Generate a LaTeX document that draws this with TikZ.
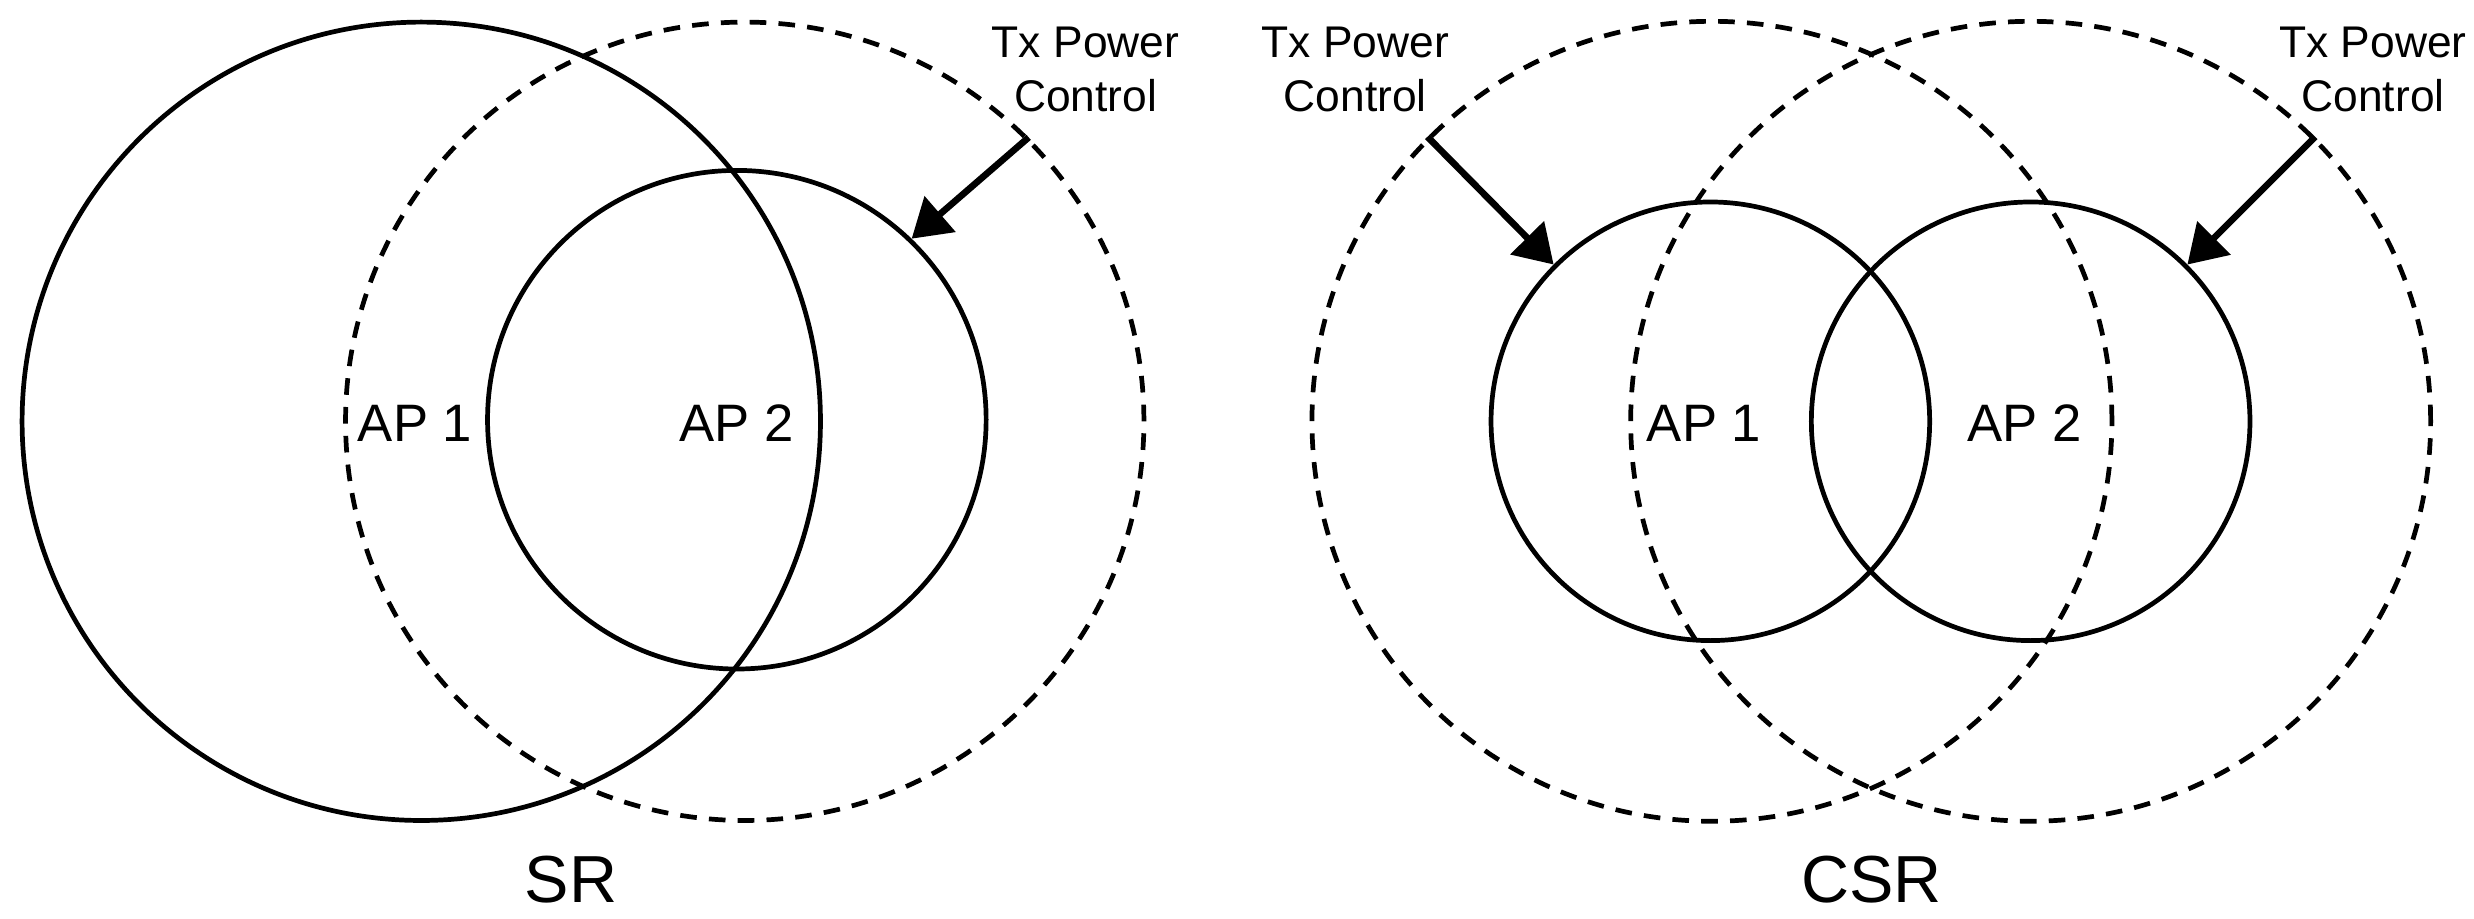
\documentclass[tikz,border=0pt]{standalone}
\usepackage{fontspec}
\setmainfont{Liberation Sans}
\usetikzlibrary{arrows.meta}

\tikzset{
  cell/.style={circle,draw,line width=0.85pt,inner sep=0pt,minimum size=#1},
  txrange/.style={circle,draw,dash pattern=on 3pt off 2.2pt,line width=0.85pt,inner sep=0pt,minimum size=#1},
  pcarrow/.style={-{Triangle[length=6.8pt,width=8.3pt]},line width=1.2pt},
  aplabel/.style={anchor=base,inner sep=0pt,font=\fontsize{9.5}{11}\selectfont},
  pclabel/.style={align=center,inner sep=0pt,font=\fontsize{8}{9.6}\selectfont},
  caselabel/.style={anchor=base,inner sep=0pt,font=\fontsize{12}{14}\selectfont}
}

\begin{document}
\begin{tikzpicture}
\useasboundingbox (0,0) rectangle (15.68,5.82);

% SR
\node[cell=5.06cm]    (srcell1)  at (2.67,3.15) {};
\node[txrange=5.06cm] (srrange2) at (4.72,3.15) {};
\node[cell=3.16cm]    (srcell2)  at (4.67,3.16) {};
\node[aplabel] (srap1) at (2.63,3.02) {AP 1};
\node[aplabel] (srap2) at (4.67,3.02) {AP 2};
\node[pclabel] (srpc) at (6.88,5.38) {Tx Power\\Control};
\draw[pcarrow] (srrange2.45) -- (srcell2.46);
\node[caselabel] (sr) at (3.62,0.10) {SR};

% CSR
\node[txrange=5.07cm] (csrrange1) at (10.85,3.15) {};
\node[txrange=5.07cm] (csrrange2) at (12.87,3.15) {};
\node[cell=2.78cm]    (csrcell1)  at (10.84,3.15) {};
\node[cell=2.78cm]    (csrcell2)  at (12.87,3.15) {};
\node[aplabel] (csrap1) at (10.80,3.02) {AP 1};
\node[aplabel] (csrap2) at (12.83,3.02) {AP 2};
\node[pclabel] (csrpc1) at (8.59,5.38) {Tx Power\\Control};
\node[pclabel] (csrpc2) at (15.04,5.38) {Tx Power\\Control};
\draw[pcarrow] (csrrange1.135) -- (csrcell1.135);
\draw[pcarrow] (csrrange2.45) -- (csrcell2.45);
\node[caselabel] (csr) at (11.86,0.10) {CSR};

\end{tikzpicture}
\end{document}
